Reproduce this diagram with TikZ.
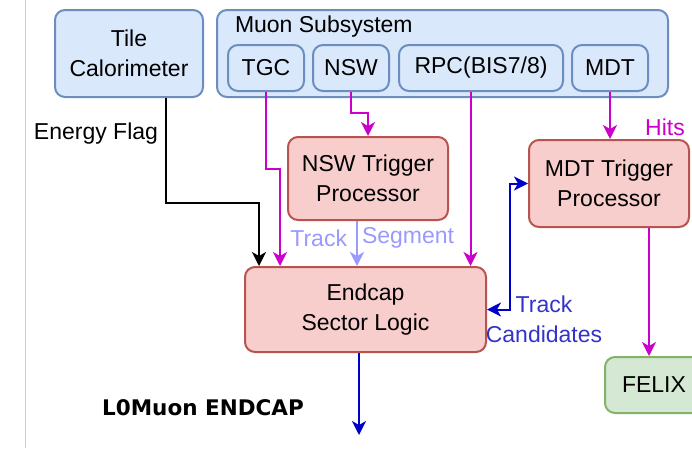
\documentclass[tikz,border=0pt]{standalone}
\usepackage{fontspec}
\setmainfont{Liberation Sans}
\newfontfamily\labelfont{DejaVu Sans}
\usetikzlibrary{arrows.meta}
\definecolor{boxblue}{HTML}{DAE8FC}
\definecolor{lineblue}{HTML}{6C8EBF}
\definecolor{boxred}{HTML}{F8CECC}
\definecolor{linered}{HTML}{B85450}
\definecolor{boxgreen}{HTML}{D5E8D4}
\definecolor{linegreen}{HTML}{82B366}
\definecolor{hitmagenta}{HTML}{CC00CC}
\definecolor{segblue}{HTML}{9999FF}
\definecolor{candblue}{HTML}{0000CC}
\definecolor{candtext}{HTML}{3333CC}
\begin{document}
\begin{tikzpicture}[x=1pt, y=-1pt, line width=2pt,
    every node/.style={font=\fontsize{23}{30}\selectfont, align=center, inner sep=0pt},
    detector/.style={draw=lineblue, fill=boxblue, rounded corners=10pt},
    trigproc/.style={draw=linered, fill=boxred, rounded corners=10pt},
    readout/.style={draw=linegreen, fill=boxgreen, rounded corners=10pt},
    tip/.style={-{Stealth[length=14pt, width=14pt, inset=4pt]}}]
            \useasboundingbox (0,0) rectangle (692,448);
            \draw[line width=1pt, gray!40] (25,0) -- (25,448);
            % detector boxes
            \node[detector, minimum width=148pt, minimum height=87pt] (tile) at (129,53.5) {Tile\\Calorimeter};
            \node[detector, minimum width=451pt, minimum height=87pt] (muon) at (442.5,53.5) {};
            \node[anchor=west] (muonlbl) at (234,27) {Muon Subsystem};
            \node[detector, minimum width=76pt, minimum height=46pt] (tgc) at (266,68) {TGC};
            \node[detector, minimum width=76pt, minimum height=46pt] (nsw) at (351,68) {NSW};
            \node[detector, minimum width=164pt, minimum height=46pt] (rpc) at (481,68) {RPC(BIS7/8)};
            \node[detector, minimum width=76pt, minimum height=46pt] (mdt) at (610,68) {MDT};
            % trigger processors and sector logic
            \node[trigproc, minimum width=160pt, minimum height=83pt] (nswtp) at (368,178.5) {NSW Trigger\\Processor};
            \node[trigproc, minimum width=160pt, minimum height=87pt] (mdttp) at (609,183.5) {MDT Trigger\\Processor};
            \node[trigproc, minimum width=241pt, minimum height=85pt] (esl) at (365.5,309.5) {Endcap\\Sector Logic};
            \node[readout, minimum width=98pt, minimum height=56pt] (felix) at (654,385) {FELIX};
            \coordinate (out) at (359,435);
            % connectors
            \draw[tip] ([xshift=37pt]tile.south) -- ++(0,105) -| ([xshift=-106.5pt]esl.north);
            \draw[tip, hitmagenta] (tgc.south) -- ++(0,77) -| ([xshift=-85.5pt]esl.north);
            \draw[tip, hitmagenta] (nsw.south) -- ++(0,21) -| (nswtp.north);
            \draw[tip, segblue] ([xshift=-11pt]nswtp.south) -- ([xshift=-11pt]nswtp.south |- esl.north);
            \draw[tip, hitmagenta] ([xshift=-10.5pt]rpc.south) -- ([xshift=-10.5pt]rpc.south |- esl.north);
            \draw[tip, hitmagenta] (mdt.south) -- (mdt.south |- mdttp.north);
            \draw[{Stealth[length=14pt, width=14pt, inset=4pt]}-{Stealth[length=14pt, width=14pt, inset=4pt]}, candblue]
                (esl.east) -- ++(23,0) |- (mdttp.west);
            \draw[tip, hitmagenta] ([xshift=40pt]mdttp.south) -- ([xshift=40pt]mdttp.south |- felix.north);
            \draw[tip, candblue] ([xshift=-6.5pt]esl.south) -- (out);
            % labels
            \node (eflag) at (96,134) {Energy Flag};
            \node[text=hitmagenta] (hits) at (665,127) {Hits};
            \node[anchor=east, text=segblue] (trklbl) at (348,238) {Track};
            \node[anchor=west, text=segblue] (seglbl) at (361,238) {Segment};
            \node[text=candtext] (candlbl) at (544,319) {Track\\Candidates};
            \node[font=\labelfont\bfseries\fontsize{21.5}{26}\selectfont] (title) at (203,408) {L0Muon ENDCAP};
\end{tikzpicture}
\end{document}
